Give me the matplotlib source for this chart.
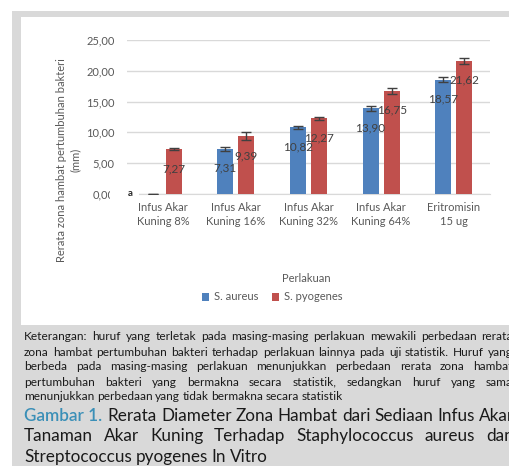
import matplotlib.pyplot as plt
from matplotlib.patches import Rectangle
import numpy as np

categories = ["Infus Akar\nKuning 8%", "Infus Akar\nKuning 16%", "Infus Akar\nKuning 32%",
              "Infus Akar\nKuning 64%", "Eritromisin\n15 ug"]
s_aureus = [0.0, 7.31, 10.82, 13.90, 18.57]
s_pyogenes = [7.27, 9.39, 12.27, 16.75, 21.62]
err_aureus = [0.0, 0.4, 0.25, 0.35, 0.4]
err_pyogenes = [0.15, 0.6, 0.3, 0.45, 0.45]
yticks = [0, 5, 10, 15, 20, 25]
ytick_labels = ["0,00", "5,00", "10,00", "15,00", "20,00", "25,00"]

note_lines = [
    "Keterangan: huruf yang terletak pada masing-masing perlakuan mewakili perbedaan rerata",
    "zona hambat pertumbuhan bakteri terhadap perlakuan lainnya pada uji statistik. Huruf yang",
    "berbeda pada masing-masing perlakuan menunjukkan perbedaan rerata zona hambat",
    "pertumbuhan bakteri yang bermakna secara statistik, sedangkan huruf yang sama",
    "menunjukkan perbedaan yang tidak bermakna secara statistik",
]
caption_lines = [
    "Rerata Diameter Zona Hambat dari Sediaan Infus Akar",
    "Tanaman Akar Kuning Terhadap Staphylococcus aureus dan",
    "Streptococcus pyogenes In Vitro",
]

W, H = 510, 466
plt.rcParams['font.family'] = ['Lato', 'DejaVu Sans']
fig = plt.figure(figsize=(W / 100, H / 100), dpi=100)


def fx(px):
    return px / W


def fy(py):
    return 1 - py / H


# page frame: gray background with white chart panel
fig.patches.append(Rectangle((fx(12), 0), 1, fy(11), transform=fig.transFigure,
                             facecolor="#d9d9d9", edgecolor="none", zorder=-10))
fig.patches.append(Rectangle((fx(21), fy(325)), 1, fy(17) - fy(325), transform=fig.transFigure,
                             facecolor="white", edgecolor="none", zorder=-9))

ax = fig.add_axes([fx(127), fy(194), fx(490) - fx(127), fy(40) - fy(194)])
ax.set_facecolor("none")
x = np.arange(len(categories))
bw = 0.22
off = 0.145
blue, red = "#4f81bd", "#c0504d"
tick_color = "#595959"

b1 = ax.bar(x - off, s_aureus, bw, color=blue, label="S. aureus", zorder=3)
b2 = ax.bar(x + off, s_pyogenes, bw, color=red, label="S. pyogenes", zorder=3)
ax.errorbar(x - off, s_aureus, yerr=err_aureus, fmt="none", ecolor="#404040",
            elinewidth=1, capsize=3.5, zorder=4)
ax.errorbar(x + off, s_pyogenes, yerr=err_pyogenes, fmt="none", ecolor="#404040",
            elinewidth=1, capsize=3.5, zorder=4)

for xs, vals in [(x - off, s_aureus), (x + off, s_pyogenes)]:
    for xi, v in zip(xs, vals):
        if v == 0:
            continue
        ax.annotate(f"{v:.2f}".replace(".", ","), (xi, v), xytext=(0, -14),
                    textcoords="offset points", ha="center", va="center",
                    fontsize=8.5, color="#404040", zorder=5)

ax.set_xlim(-0.5, len(categories) - 0.5)
ax.set_ylim(0, 25)
ax.set_yticks(yticks)
ax.set_yticklabels(ytick_labels)
ax.set_xticks(x)
ax.set_xticklabels(categories, linespacing=1.3)
ax.tick_params(axis="both", length=0, labelsize=8, colors=tick_color)
ax.tick_params(axis="y", pad=9)
ax.tick_params(axis="x", pad=6)
ax.grid(axis="y", color="#d9d9d9", linewidth=1, zorder=0)
for s in ["top", "right", "left"]:
    ax.spines[s].set_visible(False)
ax.spines["bottom"].set_color("#d9d9d9")

fig.text(fx(68), fy(160), "Rerata zona hambat pertumbuhan bakteri\n(mm)", rotation=90,
         ha="center", va="center", fontsize=8, color=tick_color, linespacing=1.3)
fig.text(fx(306), fy(279), "Perlakuan", ha="center", va="center", fontsize=8, color=tick_color)

# letter "a" for the zero bar, with its white label box
fig.patches.append(Rectangle((fx(110), fy(200)), fx(139) - fx(110), fy(188) - fy(200),
                             transform=fig.transFigure, facecolor="white", edgecolor="none",
                             zorder=5))
fig.text(fx(130), fy(194), "a", ha="center", va="center", fontsize=7, fontweight="bold",
         color="#262626", zorder=6)

fig.legend(handles=[b1, b2], loc="center", bbox_to_anchor=(fx(272), fy(297)), ncol=2,
           frameon=False, fontsize=8, handlelength=0.7, handleheight=0.7,
           handletextpad=0.4, columnspacing=1.2, labelcolor=tick_color)

renderer = fig.canvas.get_renderer()


def justified(lines, left, right, ys, size, color, justify_last=False, first_prefix=None):
    for i, (line, ypix) in enumerate(zip(lines, ys)):
        words = line.split(" ")
        texts = []
        start = left
        if first_prefix is not None and i == 0:
            pre = fig.text(fx(left), fy(ypix), first_prefix[0], fontsize=size,
                           color=first_prefix[1], va="center", ha="left",
                           fontweight="semibold")
            start = left + pre.get_window_extent(renderer).width + size * 0.45
        for w in words:
            texts.append(fig.text(0, fy(ypix), w, fontsize=size, color=color,
                                  va="center", ha="left"))
        widths = [t.get_window_extent(renderer).width for t in texts]
        last = i == len(lines) - 1
        if last and not justify_last:
            gap = size * 0.3
        else:
            gap = (right - start - sum(widths)) / max(len(words) - 1, 1)
        pos = start
        for t, wdt in zip(texts, widths):
            t.set_x(fx(pos))
            pos += wdt + gap


justified(note_lines, 24, 513, [336, 352, 367, 382, 397], 8.6, "#1a1a1a")
justified(caption_lines, 24, 514, [416, 436, 457], 12.3, "#1a1a1a",
          first_prefix=("Gambar 1.", "#3a8fb7"))

fig.savefig("out.png", dpi=100)
